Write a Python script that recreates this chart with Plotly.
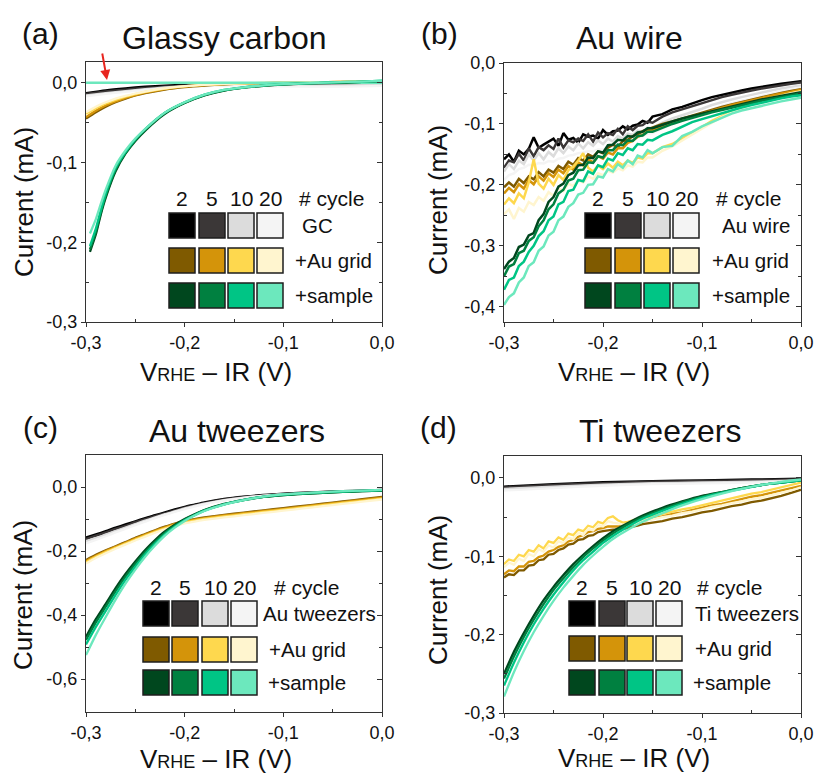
import plotly.graph_objects as go

# ----------------------------------------------------------------- data
CYCLE_LABELS = ["2", "5", "10", "20"]
TITLES = ["Glassy carbon", "Au wire", "Au tweezers", "Ti tweezers"]
PANEL_TAGS = ["(a)", "(b)", "(c)", "(d)"]
ROW_LABELS_A = ["GC", "+Au grid", "+sample"]
ROW_LABELS_B = ["Au wire", "+Au grid", "+sample"]
ROW_LABELS_C = ["Au tweezers", "+Au grid", "+sample"]
ROW_LABELS_D = ["Ti tweezers", "+Au grid", "+sample"]

X_TICKS = [-0.3, -0.2, -0.1, 0.0]
X_TICK_TEXT = ["-0,3", "-0,2", "-0,1", "0,0"]
Y_TICKS_A = [-0.3, -0.2, -0.1, 0.0]
Y_TICK_TEXT_A = ["-0,3", "-0,2", "-0,1", "0,0"]
Y_TICKS_B = [-0.4, -0.3, -0.2, -0.1, 0.0]
Y_TICK_TEXT_B = ["-0,4", "-0,3", "-0,2", "-0,1", "0,0"]
Y_TICKS_C = [-0.6, -0.4, -0.2, 0.0]
Y_TICK_TEXT_C = ["-0,6", "-0,4", "-0,2", "0,0"]
Y_TICKS_D = [-0.3, -0.2, -0.1, 0.0]
Y_TICK_TEXT_D = ["-0,3", "-0,2", "-0,1", "0,0"]

GRAY_COLORS = ["#000000", "#3b3737", "#dcdcdc", "#f4f4f4"]
GOLD_COLORS = ["#7f5a00", "#d4940a", "#fed84e", "#fff5cf"]
GREEN_COLORS = ["#00471e", "#008040", "#00c585", "#6ce8bd"]

# ---- panel (a) Glassy carbon
XA_BASE = [-0.30, -0.28, -0.26, -0.24, -0.22, -0.20, -0.17, -0.14, -0.10, -0.05, 0.00]
A_BASE_2 = [-0.013, -0.0095, -0.007, -0.005, -0.0035, -0.0025, -0.0015, -0.001, -0.0005, 0.0, 0.001]
A_BASE_5 = [-0.014, -0.011, -0.0085, -0.0065, -0.005, -0.0038, -0.0025, -0.002, -0.0015, -0.001, 0.0]
A_BASE_10 = [-0.016, -0.013, -0.0105, -0.008, -0.006, -0.0045, -0.003, -0.0025, -0.003, -0.0035, -0.003]
A_BASE_20 = [-0.017, -0.014, -0.0115, -0.009, -0.007, -0.0055, -0.004, -0.0035, -0.0045, -0.005, -0.004]

XA_GRID = [-0.30, -0.29, -0.28, -0.27, -0.26, -0.25, -0.24, -0.22, -0.20, -0.18, -0.16,
           -0.14, -0.12, -0.10, -0.07, -0.04, 0.00]
A_GRID_2 = [-0.045, -0.037, -0.030, -0.0245, -0.020, -0.016, -0.013, -0.0085, -0.0055, -0.0035,
            -0.002, -0.001, -0.0005, 0.0, 0.0005, 0.001, 0.002]
A_GRID_5 = [-0.043, -0.035, -0.0285, -0.0235, -0.019, -0.0155, -0.0125, -0.008, -0.005, -0.003,
            -0.0018, -0.001, -0.0005, 0.0, 0.0005, 0.001, 0.002]
A_GRID_10 = [-0.039, -0.032, -0.026, -0.0215, -0.0175, -0.0143, -0.0115, -0.0073, -0.0045, -0.0027,
             -0.0015, -0.0008, -0.0003, 0.0, 0.0005, 0.001, 0.002]
A_GRID_20 = [-0.037, -0.030, -0.0245, -0.020, -0.0165, -0.0135, -0.011, -0.007, -0.0043, -0.0026,
             -0.0015, -0.0008, -0.0003, 0.0, 0.0005, 0.001, 0.002]

XA_SAMPLE = [-0.296, -0.29, -0.285, -0.28, -0.27, -0.26, -0.25, -0.24, -0.22, -0.20, -0.18,
             -0.16, -0.14, -0.12, -0.10, -0.08, -0.05, -0.02, 0.0]
A_SAMPLE_2 = [-0.212, -0.19, -0.165, -0.144, -0.111, -0.089, -0.073, -0.060, -0.039, -0.0255,
              -0.016, -0.0098, -0.0062, -0.0038, -0.0022, -0.0012, 0.0, 0.001, 0.002]
A_SAMPLE_5 = [-0.209, -0.187, -0.163, -0.142, -0.109, -0.088, -0.072, -0.059, -0.038, -0.025,
              -0.0155, -0.0095, -0.006, -0.0035, -0.002, -0.001, 0.0, 0.001, 0.002]
A_SAMPLE_10 = [-0.205, -0.183, -0.160, -0.139, -0.107, -0.087, -0.071, -0.058, -0.0375, -0.0245,
               -0.015, -0.009, -0.0057, -0.0033, -0.0018, -0.0009, 0.0005, 0.0015, 0.0025]
A_SAMPLE_20 = [-0.189, -0.171, -0.152, -0.134, -0.104, -0.085, -0.070, -0.058, -0.0375, -0.0245,
               -0.015, -0.009, -0.0057, -0.0033, -0.0018, -0.0009, 0.0005, 0.0015, 0.0025]
XA_FLAT = [-0.30, 0.00]
A_FLAT = [0.0, 0.0]

# ---- shared fine grid for noisy sweeps (panels b and d)
X_FINE = [-0.300, -0.295, -0.290, -0.285, -0.280, -0.275, -0.270, -0.265, -0.260, -0.255,
          -0.250, -0.245, -0.240, -0.235, -0.230, -0.225, -0.220, -0.215, -0.210, -0.205,
          -0.200, -0.195, -0.190, -0.185, -0.180, -0.175, -0.170, -0.165, -0.160, -0.155,
          -0.150,
          -0.140, -0.130, -0.120, -0.110, -0.100, -0.090, -0.080, -0.070, -0.060, -0.050,
          -0.040, -0.030, -0.020, -0.010, 0.000]

# ---- panel (b) Au wire
B_BASE_2 = [-0.158, -0.150, -0.162, -0.144, -0.150, -0.141, -0.122, -0.139, -0.134, -0.129,
            -0.124, -0.136, -0.115, -0.126, -0.123, -0.131, -0.117, -0.121, -0.119, -0.124,
            -0.110, -0.118, -0.112, -0.111, -0.104, -0.109, -0.103, -0.101, -0.095, -0.098,
            -0.088,
            -0.084, -0.076, -0.072, -0.066, -0.061, -0.056, -0.052, -0.048, -0.045, -0.042,
            -0.039, -0.036, -0.034, -0.032, -0.030]
B_BASE_5 = [-0.172, -0.160, -0.163, -0.149, -0.160, -0.140, -0.153, -0.138, -0.143, -0.135,
            -0.141, -0.124, -0.139, -0.127, -0.130, -0.124, -0.128, -0.117, -0.129, -0.114,
            -0.122, -0.115, -0.118, -0.108, -0.117, -0.104, -0.110, -0.103, -0.102, -0.096,
            -0.098,
            -0.088, -0.081, -0.076, -0.071, -0.065, -0.060, -0.056, -0.052, -0.048, -0.045,
            -0.042, -0.039, -0.036, -0.034, -0.032]
B_BASE_10 = [-0.178, -0.166, -0.174, -0.160, -0.166, -0.150, -0.160, -0.148, -0.158, -0.146,
             -0.153, -0.140, -0.148, -0.137, -0.143, -0.132, -0.140, -0.130, -0.136, -0.127,
             -0.133, -0.124, -0.129, -0.120, -0.124, -0.116, -0.118, -0.111, -0.113, -0.106,
             -0.107,
             -0.098, -0.091, -0.086, -0.080, -0.075, -0.069, -0.064, -0.060, -0.056, -0.052,
             -0.048, -0.045, -0.042, -0.040, -0.037]
B_BASE_20 = [-0.192, -0.184, -0.181, -0.174, -0.172, -0.167, -0.168, -0.164, -0.165, -0.161,
             -0.162, -0.157, -0.156, -0.152, -0.151, -0.148, -0.147, -0.145, -0.145, -0.142,
             -0.142, -0.138, -0.137, -0.133, -0.132, -0.128, -0.126, -0.122, -0.120, -0.116,
             -0.115,
             -0.107, -0.100, -0.093, -0.088, -0.082, -0.076, -0.070, -0.066, -0.062, -0.057,
             -0.053, -0.049, -0.046, -0.043, -0.040]
B_GRID_2 = [-0.204, -0.196, -0.203, -0.190, -0.197, -0.186, -0.191, -0.179, -0.186, -0.175,
            -0.180, -0.169, -0.174, -0.162, -0.167, -0.156, -0.160, -0.150, -0.154, -0.145,
            -0.148, -0.139, -0.134, -0.138, -0.128, -0.126, -0.120, -0.117, -0.112, -0.109,
            -0.106,
            -0.100, -0.096, -0.091, -0.086, -0.081, -0.076, -0.072, -0.068, -0.064, -0.060,
            -0.056, -0.052, -0.049, -0.046, -0.043]
B_GRID_5 = [-0.214, -0.205, -0.212, -0.199, -0.206, -0.192, -0.199, -0.186, -0.193, -0.181,
            -0.187, -0.175, -0.181, -0.169, -0.175, -0.163, -0.168, -0.158, -0.163, -0.153,
            -0.157, -0.147, -0.150, -0.140, -0.140, -0.131, -0.128, -0.121, -0.118, -0.112,
            -0.110,
            -0.103, -0.098, -0.093, -0.088, -0.083, -0.078, -0.073, -0.069, -0.065, -0.061,
            -0.057, -0.053, -0.050, -0.047, -0.044]
B_GRID_10 = [-0.232, -0.222, -0.230, -0.214, -0.222, -0.196, -0.158, -0.198, -0.206, -0.190,
             -0.200, -0.184, -0.192, -0.176, -0.170, -0.160, -0.148, -0.172, -0.178, -0.168,
             -0.174, -0.165, -0.172, -0.162, -0.168, -0.160, -0.164, -0.155, -0.157, -0.148,
             -0.148,
             -0.138, -0.133, -0.124, -0.115, -0.105, -0.095, -0.087, -0.080, -0.073, -0.067,
             -0.062, -0.057, -0.053, -0.049, -0.046]
B_GRID_20 = [-0.248, -0.240, -0.256, -0.238, -0.244, -0.228, -0.233, -0.220, -0.226, -0.212,
             -0.218, -0.205, -0.210, -0.198, -0.202, -0.192, -0.196, -0.186, -0.190, -0.181,
             -0.184, -0.177, -0.180, -0.173, -0.176, -0.168, -0.170, -0.162, -0.163, -0.155,
             -0.155,
             -0.144, -0.137, -0.127, -0.118, -0.108, -0.098, -0.089, -0.081, -0.074, -0.068,
             -0.063, -0.058, -0.054, -0.050, -0.047]
B_SAMPLE_2 = [-0.338, -0.326, -0.320, -0.302, -0.298, -0.283, -0.279, -0.258, -0.248, -0.228,
              -0.220, -0.203, -0.198, -0.184, -0.180, -0.168, -0.167, -0.155, -0.156, -0.145,
              -0.147, -0.135, -0.134, -0.126, -0.127, -0.120, -0.121, -0.114, -0.113, -0.107,
              -0.107,
              -0.101, -0.096, -0.091, -0.087, -0.083, -0.079, -0.075, -0.071, -0.068, -0.064,
              -0.060, -0.057, -0.054, -0.051, -0.048]
B_SAMPLE_5 = [-0.350, -0.334, -0.330, -0.312, -0.308, -0.292, -0.286, -0.268, -0.258, -0.240,
              -0.232, -0.214, -0.208, -0.193, -0.190, -0.176, -0.175, -0.163, -0.164, -0.153,
              -0.155, -0.143, -0.143, -0.134, -0.135, -0.127, -0.128, -0.120, -0.119, -0.113,
              -0.113,
              -0.106, -0.100, -0.095, -0.090, -0.086, -0.081, -0.077, -0.073, -0.070, -0.066,
              -0.062, -0.059, -0.056, -0.053, -0.050]
B_SAMPLE_10 = [-0.372, -0.356, -0.352, -0.333, -0.326, -0.310, -0.300, -0.284, -0.276, -0.258,
               -0.252, -0.232, -0.228, -0.210, -0.208, -0.192, -0.194, -0.178, -0.182, -0.168,
               -0.171, -0.157, -0.160, -0.148, -0.151, -0.140, -0.143, -0.133, -0.134, -0.126,
               -0.127,
               -0.118, -0.112, -0.104, -0.097, -0.092, -0.087, -0.082, -0.077, -0.073, -0.069,
               -0.065, -0.062, -0.058, -0.055, -0.053]
B_SAMPLE_20 = [-0.397, -0.384, -0.378, -0.360, -0.352, -0.333, -0.327, -0.308, -0.301, -0.283,
               -0.277, -0.258, -0.252, -0.236, -0.230, -0.216, -0.213, -0.200, -0.199, -0.186,
               -0.188, -0.174, -0.178, -0.166, -0.172, -0.160, -0.166, -0.152, -0.155, -0.143,
               -0.148,
               -0.138, -0.136, -0.120, -0.113, -0.104, -0.097, -0.090, -0.083, -0.078, -0.074,
               -0.070, -0.066, -0.063, -0.060, -0.057]

# ---- panel (c) Au tweezers
XC = [-0.30, -0.29, -0.28, -0.27, -0.26, -0.25, -0.24, -0.23, -0.22, -0.21, -0.20, -0.19,
      -0.18, -0.16, -0.14, -0.12, -0.10, -0.08, -0.06, -0.04, -0.02, 0.00]
C_BASE_2 = [-0.158, -0.148, -0.138, -0.127, -0.117, -0.107, -0.097, -0.088, -0.079, -0.070, -0.062,
            -0.055, -0.048, -0.037, -0.030, -0.025, -0.021, -0.018, -0.015, -0.013, -0.011, -0.009]
C_BASE_5 = [-0.162, -0.152, -0.142, -0.131, -0.121, -0.110, -0.100, -0.091, -0.082, -0.073, -0.064,
            -0.057, -0.050, -0.039, -0.031, -0.026, -0.022, -0.019, -0.016, -0.014, -0.012, -0.010]
C_BASE_10 = [-0.170, -0.160, -0.149, -0.138, -0.127, -0.116, -0.105, -0.095, -0.085, -0.076, -0.067,
             -0.059, -0.052, -0.041, -0.033, -0.027, -0.023, -0.020, -0.017, -0.015, -0.013, -0.011]
C_BASE_20 = [-0.176, -0.165, -0.154, -0.142, -0.131, -0.119, -0.108, -0.097, -0.087, -0.078, -0.069,
             -0.061, -0.054, -0.042, -0.034, -0.028, -0.024, -0.021, -0.018, -0.016, -0.014, -0.012]
C_GRID_2 = [-0.228, -0.212, -0.198, -0.185, -0.172, -0.159, -0.147, -0.135, -0.124, -0.114, -0.106,
            -0.100, -0.095, -0.087, -0.080, -0.073, -0.066, -0.059, -0.052, -0.045, -0.038, -0.031]
C_GRID_5 = [-0.231, -0.215, -0.200, -0.187, -0.174, -0.161, -0.149, -0.137, -0.126, -0.116, -0.108,
            -0.102, -0.097, -0.089, -0.082, -0.075, -0.068, -0.061, -0.054, -0.047, -0.040, -0.033]
C_GRID_10 = [-0.235, -0.218, -0.203, -0.190, -0.177, -0.164, -0.152, -0.140, -0.129, -0.119, -0.111,
             -0.105, -0.100, -0.092, -0.085, -0.078, -0.071, -0.064, -0.057, -0.050, -0.043, -0.036]
C_GRID_20 = [-0.239, -0.222, -0.207, -0.193, -0.180, -0.167, -0.155, -0.143, -0.132, -0.122, -0.114,
             -0.108, -0.103, -0.095, -0.088, -0.081, -0.074, -0.067, -0.060, -0.053, -0.046, -0.039]
C_SAMPLE_2 = [-0.468, -0.413, -0.365, -0.316, -0.272, -0.233, -0.197, -0.166, -0.139, -0.118, -0.100,
              -0.085, -0.072, -0.053, -0.040, -0.031, -0.025, -0.021, -0.018, -0.015, -0.013, -0.011]
C_SAMPLE_5 = [-0.478, -0.423, -0.374, -0.325, -0.280, -0.240, -0.203, -0.171, -0.143, -0.121, -0.102,
              -0.087, -0.073, -0.054, -0.041, -0.031, -0.025, -0.021, -0.018, -0.015, -0.013, -0.011]
C_SAMPLE_10 = [-0.492, -0.437, -0.387, -0.337, -0.290, -0.249, -0.210, -0.177, -0.148, -0.124, -0.104,
               -0.088, -0.074, -0.054, -0.040, -0.030, -0.024, -0.020, -0.017, -0.014, -0.012, -0.010]
C_SAMPLE_20 = [-0.525, -0.462, -0.406, -0.352, -0.302, -0.258, -0.218, -0.183, -0.152, -0.127, -0.106,
               -0.089, -0.075, -0.055, -0.041, -0.030, -0.023, -0.019, -0.016, -0.013, -0.011, -0.009]

# ---- panel (d) Ti tweezers
XD_BASE = [-0.30, -0.25, -0.20, -0.15, -0.10, -0.05, 0.00]
D_BASE_2 = [-0.011, -0.008, -0.0055, -0.004, -0.003, -0.002, -0.001]
D_BASE_5 = [-0.012, -0.009, -0.0065, -0.0048, -0.0038, -0.0028, -0.0018]
D_BASE_10 = [-0.014, -0.011, -0.0085, -0.0068, -0.0058, -0.0048, -0.003]
D_BASE_20 = [-0.016, -0.013, -0.010, -0.008, -0.007, -0.006, -0.004]
D_GRID_2 = [-0.127, -0.123, -0.124, -0.118, -0.118, -0.112, -0.111, -0.105, -0.104, -0.098,
            -0.097, -0.092, -0.090, -0.085, -0.084, -0.079, -0.078, -0.074, -0.073, -0.069,
            -0.068, -0.067, -0.066, -0.066, -0.065, -0.064, -0.062, -0.061, -0.059, -0.058,
            -0.057,
            -0.055, -0.052, -0.050, -0.047, -0.044, -0.042, -0.039, -0.036, -0.034, -0.031,
            -0.029, -0.026, -0.023, -0.019, -0.015]
D_GRID_5 = [-0.123, -0.118, -0.119, -0.113, -0.113, -0.107, -0.106, -0.101, -0.099, -0.094,
            -0.092, -0.088, -0.086, -0.081, -0.079, -0.075, -0.073, -0.069, -0.068, -0.065,
            -0.064, -0.062, -0.062, -0.062, -0.061, -0.060, -0.058, -0.056, -0.055, -0.054,
            -0.052,
            -0.049, -0.046, -0.044, -0.041, -0.038, -0.035, -0.033, -0.030, -0.027, -0.024,
            -0.022, -0.019, -0.016, -0.013, -0.010]
D_GRID_10 = [-0.110, -0.104, -0.106, -0.098, -0.100, -0.092, -0.094, -0.086, -0.090, -0.081,
             -0.083, -0.076, -0.079, -0.071, -0.073, -0.066, -0.068, -0.061, -0.063, -0.056,
             -0.058, -0.051, -0.049, -0.054, -0.057, -0.056, -0.054, -0.052, -0.051, -0.050,
             -0.049,
             -0.046, -0.043, -0.040, -0.038, -0.035, -0.032, -0.029, -0.026, -0.023, -0.020,
             -0.018, -0.015, -0.012, -0.009, -0.006]
D_GRID_20 = [-0.114, -0.108, -0.111, -0.103, -0.106, -0.097, -0.100, -0.091, -0.094, -0.086,
             -0.089, -0.081, -0.083, -0.076, -0.078, -0.070, -0.073, -0.065, -0.067, -0.060,
             -0.062, -0.055, -0.057, -0.058, -0.060, -0.060, -0.058, -0.057, -0.055, -0.054,
             -0.053,
             -0.050, -0.048, -0.045, -0.043, -0.040, -0.037, -0.035, -0.032, -0.030, -0.027,
             -0.025, -0.022, -0.019, -0.016, -0.012]
D_SAMPLE_2 = [-0.250, -0.222, -0.198, -0.176, -0.156, -0.139, -0.124, -0.110, -0.098, -0.087, -0.077,
              -0.068, -0.061, -0.048, -0.038, -0.030, -0.023, -0.018, -0.013, -0.009, -0.006, -0.003]
D_SAMPLE_5 = [-0.256, -0.228, -0.203, -0.181, -0.161, -0.143, -0.128, -0.114, -0.101, -0.090, -0.080,
              -0.071, -0.063, -0.050, -0.040, -0.031, -0.024, -0.018, -0.013, -0.009, -0.006, -0.003]
D_SAMPLE_10 = [-0.265, -0.236, -0.210, -0.187, -0.167, -0.149, -0.133, -0.118, -0.105, -0.094, -0.083,
               -0.074, -0.066, -0.052, -0.042, -0.033, -0.025, -0.019, -0.014, -0.009, -0.006, -0.003]
D_SAMPLE_20 = [-0.279, -0.248, -0.221, -0.197, -0.176, -0.157, -0.140, -0.125, -0.111, -0.099, -0.088,
               -0.078, -0.070, -0.056, -0.045, -0.035, -0.027, -0.020, -0.014, -0.009, -0.005, -0.002]

# ----------------------------------------------------------------- layout geometry (pixels)
W, H = 816, 773
FONT = "Liberation Sans, Arial, sans-serif"
INK = "#111111"
FRAME = "#333333"

PLOT_BOXES = [(86, 62, 382, 322), (504, 63, 801, 322), (86, 455, 382, 712), (504, 456, 801, 713)]
Y_RANGES = [(-0.3, 0.026), (-0.425, 0.0), (-0.703, 0.1), (-0.3, 0.028)]
Y_MINOR = [[-0.25, -0.15, -0.05], [-0.35, -0.25, -0.15, -0.05], [-0.5, -0.3, -0.1], [-0.25, -0.15, -0.05]]
X_MINOR = [-0.25, -0.15, -0.05]
TITLE_POS = [(224, 38), (629, 38), (237, 431), (660, 431)]
TAG_POS = [(40, 33), (439, 33), (40, 427), (438, 427)]
YTITLE_POS = [(24, 202), (438, 200), (23, 595), (438, 590)]
XTITLE_POS = [(216, 372), (634, 372), (216, 759), (634, 758)]
LEG_SWATCH_X = [[169, 199, 228, 257], [585, 615, 644, 673], [143, 172, 202, 231], [569, 599, 627, 656]]
LEG_ROW_Y = [[213, 248, 283], [213, 248, 283], [601, 637, 670], [601, 636, 670]]
LEG_HEADER_Y = [198, 198, 587, 587]
LEG_CYCLE_X = [297, 714, 272, 695]
LEG_LABEL_X = [[300, 293, 293], [720, 710, 710], [261, 267, 266], [693, 693, 691]]
SW = 26
SH = 25
LINE_W = [2.3, 2.5, 2.3, 2.3]


def px(x):
    return x / W


def py(y):
    return 1 - y / H


PANEL_SERIES = [
    [(XA_BASE, [A_BASE_2, A_BASE_5, A_BASE_10, A_BASE_20], GRAY_COLORS, "spline"),
     (XA_GRID, [A_GRID_2, A_GRID_5, A_GRID_10, A_GRID_20], GOLD_COLORS, "spline"),
     (XA_FLAT, [A_FLAT], [GREEN_COLORS[3]], "linear"),
     (XA_SAMPLE, [A_SAMPLE_2, A_SAMPLE_5, A_SAMPLE_10, A_SAMPLE_20], GREEN_COLORS, "spline")],
    [(X_FINE, [B_BASE_2, B_BASE_5, B_BASE_10, B_BASE_20], GRAY_COLORS, "linear"),
     (X_FINE, [B_GRID_2, B_GRID_5, B_GRID_10, B_GRID_20], GOLD_COLORS, "linear"),
     (X_FINE, [B_SAMPLE_2, B_SAMPLE_5, B_SAMPLE_10, B_SAMPLE_20], GREEN_COLORS, "linear")],
    [(XC, [C_BASE_2, C_BASE_5, C_BASE_10, C_BASE_20], GRAY_COLORS, "spline"),
     (XC, [C_GRID_2, C_GRID_5, C_GRID_10, C_GRID_20], GOLD_COLORS, "spline"),
     (XC, [C_SAMPLE_2, C_SAMPLE_5, C_SAMPLE_10, C_SAMPLE_20], GREEN_COLORS, "spline")],
    [(XD_BASE, [D_BASE_2, D_BASE_5, D_BASE_10, D_BASE_20], GRAY_COLORS, "spline"),
     (X_FINE, [D_GRID_2, D_GRID_5, D_GRID_10, D_GRID_20], GOLD_COLORS, "linear"),
     (XC, [D_SAMPLE_2, D_SAMPLE_5, D_SAMPLE_10, D_SAMPLE_20], GREEN_COLORS, "spline")],
]
Y_TICKS = [(Y_TICKS_A, Y_TICK_TEXT_A), (Y_TICKS_B, Y_TICK_TEXT_B), (Y_TICKS_C, Y_TICK_TEXT_C),
           (Y_TICKS_D, Y_TICK_TEXT_D)]
ROW_LABELS = [ROW_LABELS_A, ROW_LABELS_B, ROW_LABELS_C, ROW_LABELS_D]
LEG_COLORS = [GRAY_COLORS, GOLD_COLORS, GREEN_COLORS]


def axis_name(kind, n):
    return kind if n == 1 else f"{kind}{n}"


fig = go.Figure()
layout = dict(width=W, height=H, margin=dict(l=0, r=0, t=0, b=0, pad=0, autoexpand=False),
              paper_bgcolor="white", plot_bgcolor="white", showlegend=False,
              font=dict(family=FONT, color=INK))
annotations = []
shapes = []

for p in range(4):
    n = p + 1
    xa = axis_name("x", n)
    ya = axis_name("y", n)
    yr = f"y{n + 4}"
    for xs, ys_list, cols, shape in PANEL_SERIES[p]:
        for ys, c in zip(ys_list, cols):
            assert len(xs) == len(ys)
            fig.add_trace(go.Scatter(x=xs, y=ys, mode="lines", xaxis=xa, yaxis=ya,
                                     line=dict(color=c, width=LINE_W[p], shape=shape, smoothing=0.6),
                                     hoverinfo="skip"))
    fig.add_trace(go.Scatter(x=[None], y=[None], xaxis=xa, yaxis=yr, mode="lines",
                             hoverinfo="skip"))

    l, t, r, b = PLOT_BOXES[p]
    yt, ytt = Y_TICKS[p]
    layout[axis_name("xaxis", n)] = dict(
        domain=[px(l), px(r)], range=[-0.3, 0.0], anchor=ya, automargin=False,
        tickmode="array", tickvals=X_TICKS, ticktext=X_TICK_TEXT,
        ticks="outside", ticklen=4, tickwidth=1, tickcolor=FRAME,
        showline=True, linecolor=FRAME, linewidth=1.2, mirror=True,
        showgrid=False, zeroline=False, tickfont=dict(size=18, color=INK),
        minor=dict(tickmode="array", tickvals=X_MINOR, ticks="inside", ticklen=3,
                   tickcolor=FRAME, showgrid=False))
    layout[axis_name("yaxis", n)] = dict(
        domain=[py(b), py(t)], range=list(Y_RANGES[p]), anchor=xa, automargin=False,
        tickmode="array", tickvals=yt, ticktext=ytt,
        ticks="outside", ticklen=4, tickwidth=1, tickcolor=FRAME,
        showline=True, linecolor=FRAME, linewidth=1.2, mirror=True,
        showgrid=False, zeroline=False, tickfont=dict(size=18, color=INK),
        minor=dict(tickmode="array", tickvals=Y_MINOR[p], ticks="inside", ticklen=3,
                   tickcolor=FRAME, showgrid=False))
    layout[f"yaxis{n + 4}"] = dict(
        overlaying=ya, side="right", anchor=xa, range=list(Y_RANGES[p]), automargin=False,
        tickmode="array", tickvals=yt, ticks="inside", ticklen=5, tickwidth=1,
        tickcolor=FRAME, showticklabels=False, showline=False, showgrid=False,
        zeroline=False,
        minor=dict(tickmode="array", tickvals=Y_MINOR[p], ticks="inside", ticklen=3,
                   tickcolor=FRAME, showgrid=False))

    tx, ty = TITLE_POS[p]
    annotations.append(dict(x=px(tx), y=py(ty), xref="paper", yref="paper", text=TITLES[p],
                            showarrow=False, xanchor="center", yanchor="middle",
                            font=dict(size=32, color=INK)))
    gx, gy = TAG_POS[p]
    annotations.append(dict(x=px(gx), y=py(gy), xref="paper", yref="paper", text=PANEL_TAGS[p],
                            showarrow=False, xanchor="center", yanchor="middle",
                            font=dict(size=30, color=INK)))
    yx, yy = YTITLE_POS[p]
    annotations.append(dict(x=px(yx), y=py(yy), xref="paper", yref="paper", text="Current (mA)",
                            textangle=-90, showarrow=False, xanchor="center", yanchor="middle",
                            font=dict(size=26, color=INK)))
    xx, xy = XTITLE_POS[p]
    annotations.append(dict(x=px(xx), y=py(xy), xref="paper", yref="paper",
                            text="V<span style='font-size:18px'>RHE</span> \u2013 IR (V)",
                            showarrow=False, xanchor="center", yanchor="middle",
                            font=dict(size=26, color=INK)))

    for j, cyc in enumerate(CYCLE_LABELS):
        annotations.append(dict(x=px(LEG_SWATCH_X[p][j] + SW / 2), y=py(LEG_HEADER_Y[p]),
                                xref="paper", yref="paper", text=cyc, showarrow=False,
                                xanchor="center", yanchor="middle", font=dict(size=21, color=INK)))
    annotations.append(dict(x=px(LEG_CYCLE_X[p]), y=py(LEG_HEADER_Y[p]), xref="paper", yref="paper",
                            text="# cycle", showarrow=False, xanchor="left", yanchor="middle",
                            font=dict(size=21, color=INK)))
    for i in range(3):
        top = LEG_ROW_Y[p][i]
        for j in range(4):
            left = LEG_SWATCH_X[p][j]
            shapes.append(dict(type="rect", xref="paper", yref="paper",
                               x0=px(left), x1=px(left + SW), y0=py(top + SH), y1=py(top),
                               fillcolor=LEG_COLORS[i][j],
                               line=dict(color="#1e1e1e", width=1.5), layer="above"))
        annotations.append(dict(x=px(LEG_LABEL_X[p][i]), y=py(top + SH / 2), xref="paper",
                                yref="paper", text=ROW_LABELS[p][i], showarrow=False,
                                xanchor="left", yanchor="middle", font=dict(size=20.5, color=INK)))

annotations.append(dict(x=px(107), y=py(80), xref="paper", yref="paper", text="",
                        showarrow=True, ax=-5, ay=-28, arrowhead=2, arrowsize=1,
                        arrowwidth=2, arrowcolor="#e8251f", standoff=0))

layout["annotations"] = annotations
layout["shapes"] = shapes
layout["yaxis5"]["overlaying"] = "y"

fig.update_layout(**layout)
fig.write_html("out.html",
               config={"displayModeBar": False, "staticPlot": True},
               post_script="document.body.style.margin='0';"
                           "document.body.style.padding='0';"
                           "document.body.style.overflow='hidden';")
